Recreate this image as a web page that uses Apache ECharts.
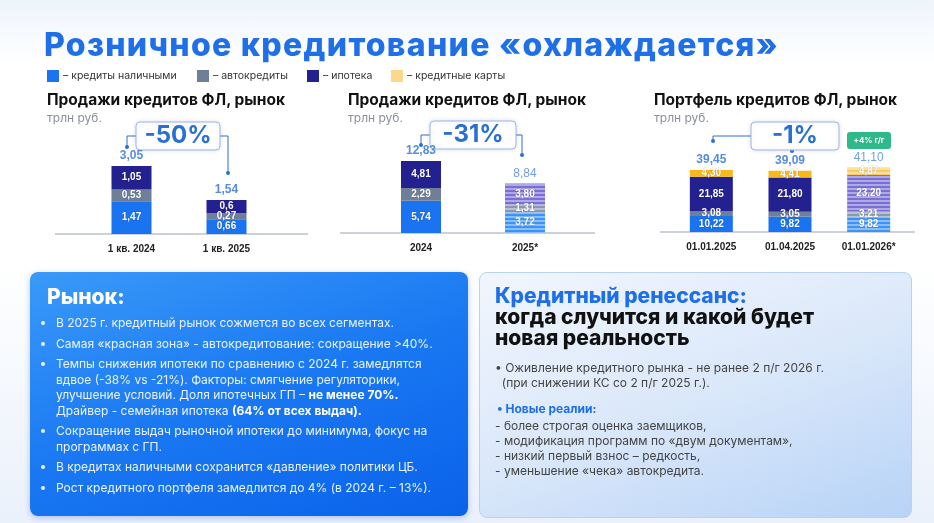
<!DOCTYPE html>
<html><head><meta charset="utf-8">
<script src="https://cdn.jsdelivr.net/npm/echarts@6/dist/echarts.min.js"></script>
<style>
body{margin:0;width:934px;height:523px;overflow:hidden;font-family:Inter,"Noto Sans",sans-serif;background:linear-gradient(180deg,#eef4fc 0%,#ffffff 12%,#ffffff 50%,#eaf1fb 100%);position:relative}
#c{position:absolute;left:0;top:0;width:934px;height:523px}
.t{position:absolute;white-space:nowrap}
.h{font-weight:700;font-size:15.5px;color:#111}
.u{font-size:12px;color:#8a8f99}
.lg{font-size:10.5px;color:#333;display:flex;align-items:center}
.lg i{display:inline-block;width:12px;height:12px;margin-right:4px}
#p1{position:absolute;left:30px;top:272px;width:438px;height:244px;border-radius:8px;background:linear-gradient(160deg,#3a9af8 0%,#1a78f2 50%,#0a62ea 100%);box-shadow:0 2px 6px rgba(30,90,200,.3);color:#fff}
#p1 ul{margin:0;padding:0 30px 0 26px;font-size:12px;line-height:15.5px;color:#eaf3ff}
#p1 li{margin-bottom:5px}
#p2{position:absolute;left:479px;top:272px;width:431px;height:244px;border-radius:8px;background:linear-gradient(160deg,#f1f6fd 0%,#dbe8fa 50%,#b7d3f7 100%);border:1px solid #b9d2f2}
</style></head><body>
<div id="c"></div>
<div class="t" style="left:44px;top:25px;font-size:32px;font-weight:800;color:#1f6fe8;letter-spacing:1.3px">Розничное кредитование «охлаждается»</div>
<div class="t lg" style="left:47px;top:69px"><i style="background:#1a73f0"></i>– кредиты наличными</div>
<div class="t lg" style="left:197px;top:69px"><i style="background:#6f7f99"></i>– автокредиты</div>
<div class="t lg" style="left:307px;top:69px"><i style="background:#23218f"></i>– ипотека</div>
<div class="t lg" style="left:391px;top:69px"><i style="background:#fcd98a"></i>– кредитные карты</div>
<div class="t h" style="left:47px;top:90px">Продажи кредитов ФЛ, рынок</div>
<div class="t u" style="left:47px;top:110px">трлн руб.</div>
<div class="t h" style="left:348px;top:90px">Продажи кредитов ФЛ, рынок</div>
<div class="t u" style="left:348px;top:110px">трлн руб.</div>
<div class="t h" style="left:654px;top:90px">Портфель кредитов ФЛ, рынок</div>
<div class="t u" style="left:654px;top:110px">трлн руб.</div>
<div class="t" style="left:847px;top:132px;width:44px;height:17px;line-height:17px;text-align:center;border-radius:3px;background:#2fb98b;color:#fff;font-size:8px;font-weight:700">+4% г/г</div>
<div id="p1">
<div style="font-size:21px;font-weight:800;margin:12px 0 6px 17px">Рынок:</div>
<ul>
<li>В 2025 г. кредитный рынок сожмется во всех сегментах.</li>
<li>Самая «красная зона» - автокредитование: сокращение &gt;40%.</li>
<li>Темпы снижения ипотеки по сравнению с 2024 г. замедлятся вдвое (-38% vs -21%). Факторы: смягчение регуляторики, улучшение условий. Доля ипотечных ГП – <b style="color:#fff">не менее 70%.</b><br>Драйвер - семейная ипотека <b style="color:#fff">(64% от всех выдач).</b></li>
<li>Сокращение выдач рыночной ипотеки до минимума, фокус на программах с ГП.</li>
<li>В кредитах наличными сохранится «давление» политики ЦБ.</li>
<li>Рост кредитного портфеля замедлится до 4% (в 2024 г. – 13%).</li>
</ul></div>
<div id="p2">
<div style="margin:12px 0 0 15px;font-size:21px;font-weight:800;line-height:21px;color:#111"><span style="color:#1f6fe8">Кредитный ренессанс:</span><br>когда случится и какой будет<br>новая реальность</div>
<div style="margin:12px 0 0 15px;font-size:12px;line-height:15px;color:#444">• Оживление кредитного рынка - не ранее 2 п/г 2026 г.<br>&nbsp;&nbsp;(при снижении КС со 2 п/г 2025 г.).</div>
<div style="margin:11px 0 0 17px;font-size:12px;font-weight:700;color:#1f6fe8">• Новые реалии:</div>
<div style="margin:2px 0 0 15px;font-size:12px;line-height:15px;color:#444">- более строгая оценка заемщиков,<br>- модификация программ по «двум документам»,<br>- низкий первый взнос – редкость,<br>- уменьшение «чека» автокредита.</div>
</div>
<script>
const cat1=['1 кв. 2024','1 кв. 2025'];
const cash1=[1.47,0.66], auto1=[0.53,0.27], mort1=[1.05,0.6], total1=[3.05,1.54];
const cat2=['2024','2025*'];
const cash2=[5.74,3.72], auto2=[2.29,1.31], mort2=[4.81,3.80], total2=[12.83,8.84];
const cat3=['01.01.2025','01.04.2025','01.01.2026*'];
const cash3=[10.22,9.82,9.82], auto3=[3.08,3.05,3.21], mort3=[21.85,21.80,23.20], card3=[4.30,4.41,4.87], total3=[39.45,39.09,41.10];
const forecast2=[false,true], forecast3=[false,false,true];

const C={cash:'#1a73f0',auto:'#6f7f99',mort:'#23218f',card:'#f9b81c'};
const CF={cash:'#3d93f4',auto:'#8b97ab',mort:'#7a6fd4',card:'#fbcb62'};
const decal={symbol:'rect',symbolSize:1,dashArrayX:[1,0],dashArrayY:[2,2],rotation:0,color:'rgba(255,255,255,0.4)'};
const fmt1=v=>String(v).replace('.',',');
const fmt2=v=>v.toFixed(2).replace('.',',');

function mk(arr,key,fc){return arr.map((v,i)=>fc&&fc[i]?{value:v,itemStyle:{color:CF[key],decal:decal}}:{value:v,itemStyle:{color:C[key]}});}
const series=[],grid=[],xAxis=[],yAxis=[];
function chart(idx,cats,g,max,parts,totals,fc,fmt){
  grid.push(g);
  xAxis.push({gridIndex:idx,type:'category',data:cats,axisLine:{show:false},axisTick:{show:false},axisLabel:{fontSize:10,fontWeight:600,color:'#222',margin:10}});
  yAxis.push({gridIndex:idx,type:'value',min:0,max:max,show:false});
  parts.forEach(([key,arr])=>series.push({type:'bar',xAxisIndex:idx,yAxisIndex:idx,stack:'s'+idx,barWidth:g.bw,data:mk(arr,key,fc),
    label:{show:true,position:'inside',color:'#fff',fontSize:10,fontWeight:700,textBorderColor:'rgba(0,0,0,0.15)',textBorderWidth:1,formatter:p=>fmt(p.value)}}));
  series.push({type:'scatter',xAxisIndex:idx,yAxisIndex:idx,symbolSize:0,data:totals.map((v,i)=>({value:v,label:{color:fc&&fc[i]?'#4f86e0':'#2a6fd6',fontWeight:fc&&fc[i]?500:700}})),
    label:{show:true,position:'top',distance:4,fontSize:12,formatter:p=>fmt(p.value)}});
}
chart(0,cat1,{left:84,width:190,top:100,height:134,bw:40},134/22.3,[['cash',cash1],['auto',auto1],['mort',mort1]],total1,null,fmt1);
chart(1,cat2,{left:369,width:208,top:100,height:133,bw:40},133/5.6,[['cash',cash2],['auto',auto2],['mort',mort2]],total2,forecast2,fmt2);
chart(2,cat3,{left:672,width:236,top:100,height:132,bw:43},132/1.57,[['cash',cash3],['auto',auto3],['mort',mort3],['card',card3]],total3,forecast3,fmt2);

function callout(x1,y1,x2,y2,bx,by,bw,bh,txt){
  const ln={stroke:'#2a6fd6',lineWidth:1};
  return [
    {type:'polyline',shape:{points:[[x1,y1],[x1,by+bh/2],[bx,by+bh/2]]},style:ln},
    {type:'polyline',shape:{points:[[bx+bw,by+bh/2],[x2,by+bh/2],[x2,y2]]},style:ln},
    {type:'circle',shape:{cx:x1,cy:y1,r:2},style:{fill:'#2a6fd6'}},
    {type:'circle',shape:{cx:x2,cy:y2,r:2},style:{fill:'#2a6fd6'}},
    {type:'rect',shape:{x:bx,y:by,width:bw,height:bh,r:4},style:{fill:'#fff',stroke:'#9fb8dd',lineWidth:1,shadowBlur:4,shadowColor:'rgba(0,60,160,0.15)'}},
    {type:'text',x:bx+bw/2,y:by+bh/2,style:{text:txt,fill:'#2a6fd6',font:'700 24px Inter, sans-serif',align:'center',verticalAlign:'middle'}}
  ];
}
const graphic=[
  {type:'line',shape:{x1:55,y1:234,x2:308,y2:234},style:{stroke:'#9aa5b5',lineWidth:1}},
  {type:'line',shape:{x1:340,y1:233,x2:595,y2:233},style:{stroke:'#9aa5b5',lineWidth:1}},
  {type:'line',shape:{x1:660,y1:232,x2:915,y2:232},style:{stroke:'#9aa5b5',lineWidth:1}},
  ...callout(127,147,228,173,136,122,84,28,'-50%'),
  ...callout(421,145,522,155,430,121,86,28,'-31%'),
  ...callout(713,141,792,151,751,122,88,28,'-1%')
];
const ch=echarts.init(document.getElementById('c'),null,{renderer:'canvas'});
ch.setOption({animation:false,grid,xAxis,yAxis,series,graphic});
</script></body></html>
